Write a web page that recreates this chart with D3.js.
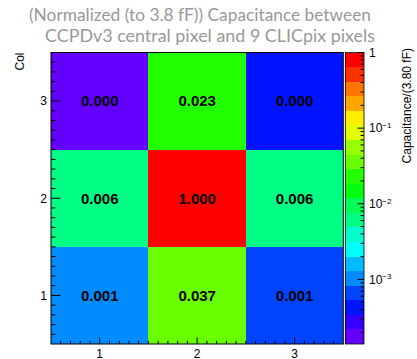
<!DOCTYPE html>
<html>
<head>
<meta charset="utf-8">
<script src="https://cdn.jsdelivr.net/npm/d3@7/dist/d3.min.js"></script>
<style>
  html, body { margin: 0; padding: 0; background: #fff; }
  svg { display: block; }
</style>
</head>
<body>
<svg id="chart" width="417" height="359"></svg>
<script>
// Bin centres along each axis
const xBins = [1, 2, 3];
const yBins = [1, 2, 3];
// Normalised capacitance, one row per y bin (bottom row first)
const row1 = [0.0011, 0.037, 0.0007];
const row2 = [0.006, 1.0, 0.006];
const row3 = [0.00014, 0.023, 0.0004];
const rows = [row1, row2, row3];
// Tick labels
const xTickLabels = ["1", "2", "3"];
const yTickLabels = ["1", "2", "3"];
const zDecades = [0, -1, -2, -3];

const titleLines = ["(Normalized (to 3.8 fF)) Capacitance between",
                    "CCPDv3 central pixel and 9 CLICpix pixels"];
const yTitle = "Col";
const zTitle = "Capacitance/(3.80 fF)";

const svg = d3.select("#chart");

const plot = {x0: 51, x1: 343.3, y0: 52.5, y1: 344};
const pal = {x0: 345.3, x1: 364, y0: 52.5, y1: 344};

const x = d3.scaleLinear().domain([0.5, 3.5]).range([plot.x0, plot.x1]);
const y = d3.scaleLinear().domain([0.5, 3.5]).range([plot.y1, plot.y0]);

const cells = [];
rows.forEach((r, j) => r.forEach((v, i) => cells.push({xc: xBins[i], yc: yBins[j], v})));

const zMin = d3.min(cells, d => d.v), zMax = d3.max(cells, d => d.v);
const z = d3.scaleLog().domain([zMin, zMax]).range([pal.y1, pal.y0]);

// Contour-banded rainbow palette (violet -> red), 20 bands over 50 hues
const nContours = 20, nColors = 50;
const lz0 = Math.log10(zMin), lz1 = Math.log10(zMax);
const dz = (lz1 - lz0) / nContours;
function bandColor(k) {
  const ci = Math.floor((k + 0.99) * nColors / nContours);
  const hue = 280 - (ci + 1) * (280 / nColors);
  return d3.hsl(hue, 1, 0.5).formatHex();
}
function bandOf(v) {
  const k = Math.floor((Math.log10(v) - lz0) / dz + 1e-9);
  return Math.max(0, Math.min(nContours - 1, k));
}

// Cells
svg.append("g").selectAll("rect").data(cells).join("rect")
  .attr("x", d => x(d.xc - 0.5))
  .attr("y", d => y(d.yc + 0.5))
  .attr("width", d => x(d.xc + 0.5) - x(d.xc - 0.5))
  .attr("height", d => y(d.yc - 0.5) - y(d.yc + 0.5))
  .attr("fill", d => bandColor(bandOf(d.v)))
  .attr("shape-rendering", "crispEdges");

// Cell value labels
svg.append("g").selectAll("text").data(cells).join("text")
  .attr("x", d => x(d.xc))
  .attr("y", d => y(d.yc))
  .attr("dy", "0.36em")
  .attr("text-anchor", "middle")
  .attr("font-family", "Liberation Sans, Arial, sans-serif")
  .attr("font-weight", "bold")
  .attr("font-size", 15)
  .attr("fill", "#000")
  .text(d => d.v.toFixed(3));

// Frame
svg.append("rect")
  .attr("x", plot.x0).attr("y", plot.y0)
  .attr("width", plot.x1 - plot.x0).attr("height", plot.y1 - plot.y0)
  .attr("fill", "none").attr("stroke", "#000").attr("stroke-width", 1);

// Axis ticks (major at integers, minor every 0.1)
const ax = svg.append("g").attr("stroke", "#000").attr("stroke-width", 1);
const xMinor = d3.range(6, 35).map(i => i / 10);
ax.selectAll("line.xt").data(xMinor).join("line")
  .attr("x1", d => x(d)).attr("x2", d => x(d))
  .attr("y1", plot.y1).attr("y2", d => plot.y1 - (Math.abs(d - Math.round(d)) < 1e-6 ? 6.5 : 3.2));
const yMinor = d3.range(6, 35).map(i => i / 10);
ax.selectAll("line.yt").data(yMinor).join("line")
  .attr("y1", d => y(d)).attr("y2", d => y(d))
  .attr("x1", plot.x0).attr("x2", d => plot.x0 + (Math.abs(d - Math.round(d)) < 1e-6 ? 9.5 : 4.5));

const labelFont = "Liberation Sans, Arial, Helvetica, sans-serif";
svg.append("g").selectAll("text").data(xBins).join("text")
  .attr("x", d => x(d)).attr("y", 357.5)
  .attr("text-anchor", "middle")
  .attr("font-family", labelFont).attr("font-size", 12)
  .text((d, i) => xTickLabels[i]);
svg.append("g").selectAll("text").data(yBins).join("text")
  .attr("x", 47).attr("y", d => y(d)).attr("dy", "0.36em")
  .attr("text-anchor", "end")
  .attr("font-family", labelFont).attr("font-size", 12)
  .text((d, i) => yTickLabels[i]);

// Y title
svg.append("text")
  .attr("transform", `translate(23.5,${plot.y0}) rotate(-90)`)
  .attr("text-anchor", "end")
  .attr("font-family", labelFont).attr("font-size", 12)
  .text(yTitle);

// Palette bands
const bands = d3.range(nContours);
svg.append("g").selectAll("rect").data(bands).join("rect")
  .attr("x", pal.x0)
  .attr("y", k => z(Math.pow(10, lz0 + (k + 1) * dz)))
  .attr("width", pal.x1 - pal.x0)
  .attr("height", k => z(Math.pow(10, lz0 + k * dz)) - z(Math.pow(10, lz0 + (k + 1) * dz)))
  .attr("fill", k => bandColor(k))
  .attr("shape-rendering", "crispEdges");
svg.append("rect")
  .attr("x", pal.x0).attr("y", pal.y0)
  .attr("width", pal.x1 - pal.x0).attr("height", pal.y1 - pal.y0)
  .attr("fill", "none").attr("stroke", "#000").attr("stroke-width", 0.8);

// Palette log axis ticks
const zTicks = [];
for (let e = -4; e <= 0; e++) {
  for (let m = 1; m <= 9; m++) {
    const v = m * Math.pow(10, e);
    if (v >= zMin * 0.999 && v <= zMax * 1.001) zTicks.push({v, major: m === 1});
  }
}
svg.append("g").attr("stroke", "#000").attr("stroke-width", 1)
  .selectAll("line").data(zTicks).join("line")
  .attr("x1", pal.x1).attr("x2", d => pal.x1 - (d.major ? 6.5 : 3.5))
  .attr("y1", d => z(d.v)).attr("y2", d => z(d.v));

// Palette labels: 1, 10^-1, ...
const zl = svg.append("g").attr("font-family", labelFont).attr("fill", "#000");
zDecades.forEach(e => {
  const t = zl.append("text")
    .attr("x", 369).attr("y", z(Math.pow(10, e))).attr("dy", "0.36em")
    .attr("font-size", 12);
  if (e === 0) {
    t.text("1");
  } else {
    t.append("tspan").text("10");
    t.append("tspan").attr("font-size", 8).attr("dy", "-0.55em").text(String(e).replace("-", "\u2212"));
  }
});

// Palette title
svg.append("text")
  .attr("transform", `translate(410.5,48) rotate(-90)`)
  .attr("text-anchor", "end")
  .attr("font-family", labelFont).attr("font-size", 12)
  .text(zTitle);

// Title
const titleX = [200, 210], titleY = [21, 42], titleW = [342, 330];
svg.append("g").attr("fill", "#999").attr("font-family", "Lato, sans-serif").attr("font-size", 17.3)
  .selectAll("text").data(titleLines).join("text")
  .attr("x", (d, i) => titleX[i])
  .attr("y", (d, i) => titleY[i])
  .attr("text-anchor", "middle")
  .attr("textLength", (d, i) => titleW[i])
  .attr("lengthAdjust", "spacingAndGlyphs")
  .text(d => d);
</script>
</body>
</html>
